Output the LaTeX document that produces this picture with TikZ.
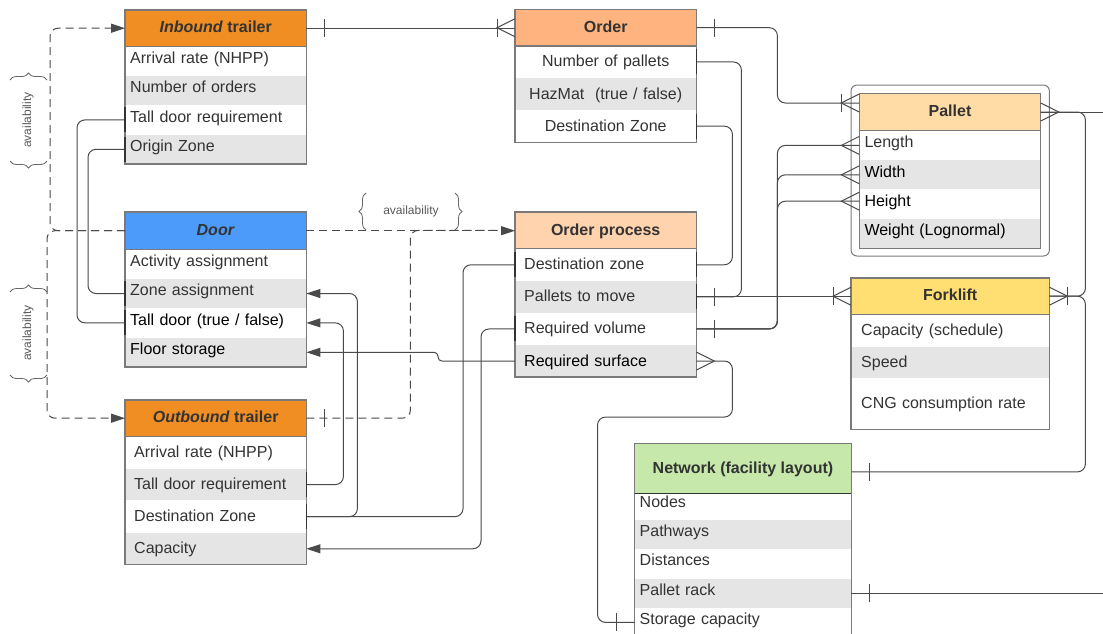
\documentclass[tikz,border=0pt]{standalone}
\usepackage{fontspec}
\setmainfont{Liberation Sans}
\usetikzlibrary{arrows.meta,calc,decorations.pathreplacing}
\definecolor{txt}{HTML}{333333}
\definecolor{rowgray}{HTML}{E5E5E5}
\definecolor{bordc}{HTML}{7A7A7A}
\definecolor{lnc}{HTML}{4A4A4A}
\definecolor{inb}{HTML}{F08D23}
\definecolor{doorc}{HTML}{4C9BFA}
\definecolor{ordc}{HTML}{FFB47F}
\definecolor{opc}{HTML}{FFD3AE}
\definecolor{palc}{HTML}{FFDBA6}
\definecolor{forkc}{HTML}{FFDF72}
\definecolor{netc}{HTML}{C6E8AA}
\newcommand{\edgebar}[1]{\draw[ebar] ($(#1)+(0,-12.5)$) -- ($(#1)+(0,12.5)$);}
\newcommand{\tickat}[2]{\draw[conn] ($(#1)+(#2,-9)$) -- ($(#1)+(#2,9)$);}
\newcommand{\crowat}[2]{\draw[conn] ($(#1)+(0,-9)$) -- ($(#1)+(#2,0)$) -- ($(#1)+(0,9)$);}
\begin{document}
\begin{tikzpicture}[x=1pt,y=-1pt,
  hd/.style={anchor=north west, inner sep=0pt, align=center, text=txt, font=\bfseries\fontsize{16}{18}\selectfont, text height=11.5pt, text depth=2pt},
  cl/.style={anchor=north west, inner xsep=5pt, inner ysep=0pt, align=left, text=txt, font=\fontsize{16}{18}\selectfont, text height=11.5pt, text depth=1.5pt},
  up/.style={text depth=7pt},
  gr/.style={fill=rowgray},
  tblborder/.style={draw=bordc, line width=1.3pt},
  conn/.style={draw=lnc, line width=1pt},
  rc/.style={rounded corners=8pt},
  arr/.style={-{Triangle[length=14pt,width=9pt]}},
  ebar/.style={draw=txt, line width=1.6pt},
  dashln/.style={draw=lnc, line width=1pt, dash pattern=on 8pt off 5pt},
  bracedeco/.style={decorate, decoration={brace, amplitude=7pt}, draw=black!60, line width=0.8pt},
  avail/.style={text=black!65, font=\fontsize{12}{14}\selectfont}
]
\useasboundingbox (0,0) rectangle (1103,633);
\clip (0,0) rectangle (1103,633);
\coordinate (rightedge) at (1110,0);

% ---------- Inbound trailer
\node[hd, fill=inb, minimum width=181pt, minimum height=36pt] (ib-h) at (125,10) {\textit{Inbound} trailer};
\node[cl, up, text width=171pt, minimum height=29pt] (ib-1) at (ib-h.south west) {Arrival rate (NHPP)};
\node[cl, up, gr, text width=171pt, minimum height=29pt] (ib-2) at (ib-1.south west) {Number of orders};
\node[cl, up, text width=171pt, minimum height=29pt] (ib-3) at (ib-2.south west) {Tall door requirement};
\node[cl, up, gr, text width=171pt, minimum height=29pt] (ib-4) at (ib-3.south west) {Origin Zone};
\draw[tblborder] (ib-h.north west) rectangle (ib-4.south east);
\draw[tblborder] (ib-h.south west) -- (ib-h.south east);

% ---------- Door
\node[hd, fill=doorc, minimum width=181pt, minimum height=37pt] (dr-h) at (125,212) {\textit{Door}};
\node[cl, up, text width=171pt, minimum height=29pt] (dr-1) at (dr-h.south west) {Activity assignment};
\node[cl, up, gr, text width=171pt, minimum height=29pt] (dr-2) at (dr-1.south west) {Zone assignment};
\node[cl, up, text width=171pt, minimum height=29pt, text=black] (dr-3) at (dr-2.south west) {Tall door (true / false)};
\node[cl, up, gr, text width=171pt, minimum height=29pt, text=black] (dr-4) at (dr-3.south west) {Floor storage};
\draw[tblborder] (dr-h.north west) rectangle (dr-4.south east);
\draw[tblborder] (dr-h.south west) -- (dr-h.south east);

% ---------- Outbound trailer
\node[hd, fill=inb, minimum width=181pt, minimum height=36pt] (ob-h) at (125,400) {\textit{Outbound} trailer};
\node[cl, inner xsep=9pt, text width=163pt, minimum height=31.7pt] (ob-1) at (ob-h.south west) {Arrival rate (NHPP)};
\node[cl, gr, inner xsep=9pt, text width=163pt, minimum height=31.7pt] (ob-2) at (ob-1.south west) {Tall door requirement};
\node[cl, inner xsep=9pt, text width=163pt, minimum height=31.7pt] (ob-3) at (ob-2.south west) {Destination Zone};
\node[cl, gr, inner xsep=9pt, text width=163pt, minimum height=31.7pt] (ob-4) at (ob-3.south west) {Capacity};
\draw[tblborder] (ob-h.north west) rectangle (ob-4.south east);
\draw[tblborder] (ob-h.south west) -- (ob-h.south east);

% ---------- Order
\node[hd, fill=ordc, minimum width=181pt, minimum height=36pt] (or-h) at (515,9.5) {Order};
\node[cl, align=center, text width=171pt, minimum height=31.7pt] (or-1) at (or-h.south west) {Number of pallets};
\node[cl, gr, align=center, text width=171pt, minimum height=31.7pt] (or-2) at (or-1.south west) {HazMat\ \ (true / false)};
\node[cl, align=center, text width=171pt, minimum height=31.7pt] (or-3) at (or-2.south west) {Destination Zone};
\draw[tblborder] (or-h.north west) rectangle (or-3.south east);
\draw[tblborder] (or-h.south west) -- (or-h.south east);

% ---------- Order process
\node[hd, fill=opc, minimum width=181pt, minimum height=36.3pt] (op-h) at (515,212) {Order process};
\node[cl, inner xsep=9pt, text width=163pt, minimum height=31.7pt] (op-1) at (op-h.south west) {Destination zone};
\node[cl, gr, inner xsep=9pt, text width=163pt, minimum height=31.7pt] (op-2) at (op-1.south west) {Pallets to move};
\node[cl, inner xsep=9pt, text width=163pt, minimum height=31.7pt] (op-3) at (op-2.south west) {Required volume};
\node[cl, gr, inner xsep=9pt, text width=163pt, minimum height=31.7pt, text=black] (op-4) at (op-3.south west) {Required surface};
\draw[tblborder] (op-h.north west) rectangle (op-4.south east);
\draw[tblborder] (op-h.south west) -- (op-h.south east);

% ---------- Pallet
\node[hd, fill=palc, minimum width=181pt, minimum height=37pt] (pl-h) at (859.3,93.3) {Pallet};
\node[cl, up, text width=171pt, minimum height=29pt] (pl-1) at (pl-h.south west) {Length};
\node[cl, up, gr, text width=171pt, minimum height=29pt, text=black] (pl-2) at (pl-1.south west) {Width};
\node[cl, up, text width=171pt, minimum height=29pt, text=black] (pl-3) at (pl-2.south west) {Height};
\node[cl, up, gr, text width=171pt, minimum height=29pt, text=black] (pl-4) at (pl-3.south west) {Weight (Lognormal)};
\draw[tblborder] (pl-h.north west) rectangle (pl-4.south east);
\draw[tblborder] (pl-h.south west) -- (pl-h.south east);
\draw[draw=bordc, line width=1pt, rounded corners=6pt] ($(pl-h.north west)+(-8.3,-8.3)$) rectangle ($(pl-4.south east)+(8.7,7.7)$);

% ---------- Forklift
\node[hd, fill=forkc, minimum width=198pt, minimum height=36pt] (fk-h) at (851,278) {Forklift};
\node[cl, inner xsep=10pt, text width=178pt, minimum height=32pt] (fk-1) at (fk-h.south west) {Capacity (schedule)};
\node[cl, gr, inner xsep=10pt, text width=178pt, minimum height=31pt] (fk-2) at (fk-1.south west) {Speed};
\node[cl, inner xsep=10pt, text width=178pt, minimum height=51pt] (fk-3) at (fk-2.south west) {CNG consumption rate};
\draw[tblborder] (fk-h.north west) rectangle (fk-3.south east);
\draw[tblborder] (fk-h.south west) -- (fk-h.south east);

% ---------- Network
\node[hd, fill=netc, minimum width=216.5pt, minimum height=50pt] (nw-h) at (634.5,443.3) {Network (facility layout)};
\node[cl, up, text width=206.5pt, minimum height=25.4pt, text depth=9pt] (nw-1) at (nw-h.south west) {Nodes};
\node[cl, up, gr, text width=206.5pt, minimum height=29pt] (nw-2) at (nw-1.south west) {Pathways};
\node[cl, up, text width=206.5pt, minimum height=29pt] (nw-3) at (nw-2.south west) {Distances};
\node[cl, up, gr, text width=206.5pt, minimum height=29pt] (nw-4) at (nw-3.south west) {Pallet rack};
\node[cl, up, text width=206.5pt, minimum height=29pt] (nw-5) at (nw-4.south west) {Storage capacity};
\draw[tblborder] (nw-h.north west) rectangle (nw-5.south east);
\draw[draw=black!80, line width=1.3pt] (nw-h.south west) -- (nw-h.south east);

% ---------- solid connectors
% Inbound -> Order
\draw[conn] (ib-h.east) -- (ib-h.east -| or-h.west);
\tickat{ib-h.east}{18}
\crowat{or-h.west}{-18}
\tickat{or-h.west}{-18}
% Order -> Pallet
\coordinate (pl-in) at ($(pl-h.north west)+(0,9.7)$);
\draw[conn, rc] (or-h.east) -- ++(81,0) |- (pl-in);
\tickat{or-h.east}{18}
\crowat{pl-in}{-18}
\tickat{pl-in}{-18}
% Order.Number of pallets -> Order process.Pallets to move
\draw[conn, rc] (or-1.east) -- ++(45,0) |- (op-2.east);
% Pallets to move -> Forklift
\draw[conn] (op-2.east) -- (op-2.east -| fk-h.west);
\tickat{op-2.east}{18}
\crowat{fk-h.west}{-18}
\tickat{fk-h.west}{-18}
% Order.Destination Zone -> Order process.Destination zone
\draw[conn, rc] (or-3.east) -- ++(36,0) |- (op-1.east);
% Required volume -> Pallet dims
\coordinate (pl-3in) at ($(pl-3.west)+(0,-3)$);
\draw[conn, rc] (op-3.east) -- ++(81,0) |- (pl-1.west);
\draw[conn, rc] (op-3.east) -- ++(81,0) |- (pl-2.west);
\draw[conn, rc] (op-3.east) -- ++(81,0) |- (pl-3in);
\tickat{op-3.east}{18}
\crowat{pl-1.west}{-18}
\crowat{pl-2.west}{-18}
\crowat{pl-3in}{-18}
% Required surface -> Network.Storage capacity
\draw[conn, rc] (op-4.east) -- ++(36,0) -- ++(0,56) -| ($(nw-5.west)+(-37,0)$) -- (nw-5.west);
\crowat{op-4.east}{18}
\tickat{nw-5.west}{-18}
% Order process.Destination zone -> Outbound.Destination Zone
\draw[conn, rc] (op-1.west) -- ++(-52,0) |- (ob-3.east);
% Outbound.Destination Zone -> Door.Zone assignment
\draw[conn, rc, arr] (ob-3.east) -- ++(51,0) |- (dr-2.east);
% Outbound.Tall door -> Door.Tall door
\draw[conn, rc, arr] (ob-2.east) -- ++(37,0) |- (dr-3.east);
% Required surface -> Door.Floor storage
\draw[conn, rounded corners=4pt, arr] (op-4.west) -- ++(-77,0) |- (dr-4.east);
% Required volume -> Outbound.Capacity
\draw[conn, rc, arr] (op-3.west) -- ++(-34,0) |- (ob-4.east);
% Inbound -> Door
\draw[conn, rc] (ib-3.west) -- ++(-48,0) |- (dr-3.west);
\draw[conn, rc] (ib-4.west) -- ++(-37,0) |- (dr-2.west);
% Pallet -> right, Pallet -> Forklift
\draw[conn] (pl-h.east) -- (pl-h.east -| rightedge);
\crowat{pl-h.east}{18}
\draw[conn, rc] (pl-h.east) -- ++(44.7,0) |- (fk-h.east);
\crowat{fk-h.east}{18}
\tickat{fk-h.east}{18}
% Forklift -> Network
\coordinate (nw-in) at ($(nw-h.east)+(0,3.4)$);
\draw[conn, rc] (fk-h.east) -- ++(36,0) |- (nw-in);
\tickat{nw-in}{18}
% Network.Pallet rack -> right
\draw[conn] (nw-4.east) -- (nw-4.east -| rightedge);
\tickat{nw-4.east}{18}

% edge bars
\edgebar{ib-3.west}
\edgebar{ib-4.west}
\edgebar{dr-2.west}
\edgebar{dr-3.west}
\edgebar{or-1.east}
\edgebar{or-3.east}
\edgebar{op-1.east}
\edgebar{op-1.west}
\edgebar{op-2.east}
\edgebar{op-3.west}
\edgebar{ob-2.east}
\edgebar{ob-3.east}

% ---------- dashed connectors
\draw[dashln, rc, arr] (dr-h.west) -- ++(-75,0) |- (ib-h.west);
\draw[dashln, rc, arr] (dr-h.west) -- ++(-78,0) |- (ob-h.west);
\draw[dashln, arr] (dr-h.east) -- (dr-h.east -| op-h.west);
\draw[dashln, rc] (ob-h.east) -- ++(104,0) |- (op-h.west);
\tickat{ob-h.east}{18}

% ---------- availability labels
\node[avail, rotate=90] (av1) at (28,120) {availability};
\draw[bracedeco] (10,80) -- (47,80);
\draw[bracedeco] (47,161) -- (10,161);
\node[avail, rotate=90] (av2) at (28,333) {availability};
\draw[bracedeco] (10,292) -- (47,292);
\draw[bracedeco] (47,375) -- (10,375);
\node[avail] (av3) at (411,211) {availability};
\draw[bracedeco] (366,230) -- (366,193);
\draw[bracedeco] (455,193) -- (455,230);
\end{tikzpicture}
\end{document}
